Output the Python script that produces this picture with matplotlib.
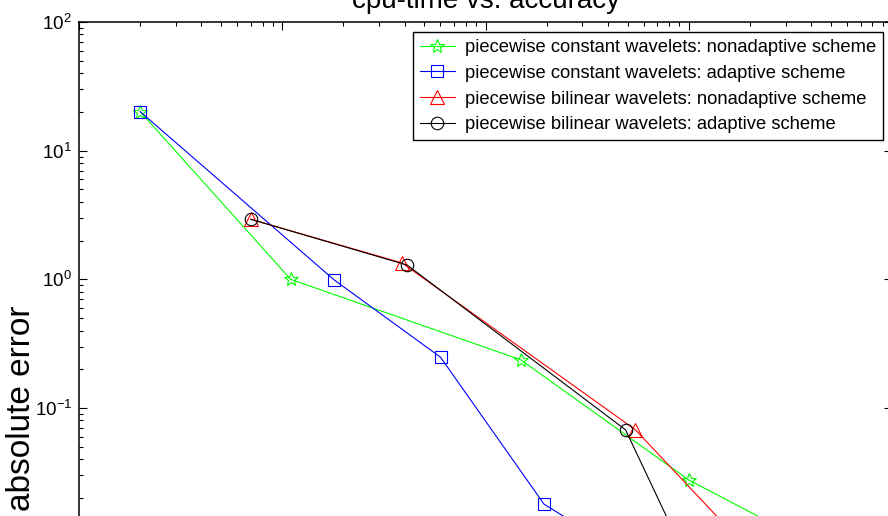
import numpy as np
import matplotlib
matplotlib.use("Agg")
import matplotlib.pyplot as plt
from matplotlib.ticker import LogLocator, NullFormatter

# cpu-time / absolute error
const_nonad_t = [2.0, 11.0, 149, 1000, 7690]
const_nonad_e = [20.1, 1.0, 0.237, 0.0276, 0.0051]

const_ad_t = [2.0, 18.0, 60.1, 194, 601]
const_ad_e = [20.1, 0.99, 0.248, 0.0179, 0.0059]

bilin_nonad_t = [7.0, 38.9, 547, 2712]
bilin_nonad_e = [2.93, 1.34, 0.0676, 0.0046]

bilin_ad_t = [7.0, 41.2, 489, 1422]
bilin_ad_e = [2.93, 1.29, 0.0676, 0.0019]

labels = ["piecewise constant wavelets: nonadaptive scheme",
          "piecewise constant wavelets: adaptive scheme",
          "piecewise bilinear wavelets: nonadaptive scheme",
          "piecewise bilinear wavelets: adaptive scheme"]

# y ticks; the ones below 10^-1 fall outside the visible crop
yticks = [1e-4, 1e-3, 1e-2, 1e-1, 1e0, 1e1, 1e2]
ytick_labels = ["", "", "", "$10^{-1}$", "$10^{0}$", "$10^{1}$", "$10^{2}$"]

plt.rcParams["font.family"] = ["Liberation Sans", "DejaVu Sans"]
plt.rcParams["mathtext.fontset"] = "custom"
plt.rcParams["mathtext.rm"] = "Liberation Sans"
plt.rcParams["mathtext.it"] = "Liberation Sans"

W, H = 888, 516
fig = plt.figure(figsize=(W / 100, H / 100), dpi=100)
# axes runs past the bottom edge; the reference is a crop of a taller figure
left, right, top, bottom = 79, 892, 22, 794
ax = fig.add_axes([left / W, 1 - bottom / H, (right - left) / W, (bottom - top) / H])

lw = 0.8
ax.plot(const_nonad_t, const_nonad_e, "-", color=(0, 1, 0), lw=lw, marker="*",
        ms=10.5, mfc="none", mec=(0, 1, 0), mew=0.8, label=labels[0])
ax.plot(const_ad_t, const_ad_e, "-", color=(0, 0, 1), lw=lw, marker="s",
        ms=8.5, mfc="none", mec=(0, 0, 1), mew=0.8, label=labels[1])
ax.plot(bilin_nonad_t, bilin_nonad_e, "-", color=(1, 0, 0), lw=lw, marker="^",
        ms=10, mfc="none", mec=(1, 0, 0), mew=0.8, label=labels[2])
ax.plot(bilin_ad_t, bilin_ad_e, "-", color="k", lw=lw, marker="o",
        ms=9, mfc="none", mec="k", mew=0.8, label=labels[3])

ax.set_xscale("log")
ax.set_yscale("log")
ax.set_xlim(1, 1e4)
ax.set_ylim(1e-4, 1e2)

ax.set_yticks(yticks, ytick_labels)
ax.yaxis.set_minor_locator(LogLocator(base=10, subs=np.arange(2, 10), numticks=20))
ax.xaxis.set_minor_locator(LogLocator(base=10, subs=np.arange(2, 10), numticks=20))
ax.xaxis.set_minor_formatter(NullFormatter())
ax.yaxis.set_minor_formatter(NullFormatter())

ax.tick_params(which="both", direction="in", top=True, right=True, width=0.8)
ax.tick_params(which="major", length=5.5, labelsize=13.5, pad=5)
ax.tick_params(which="minor", length=3)
# x tick labels sit below the cropped area
ax.tick_params(axis="x", labelbottom=False)
for sp in ax.spines.values():
    sp.set_linewidth(1.1)

ax.set_title("cpu-time vs. accuracy", fontsize=20, pad=10)
ax.set_ylabel("absolute error", fontsize=24)
ax.yaxis.set_label_coords(-0.052, 0.5)

leg = ax.legend(loc="upper right", bbox_to_anchor=(883 / W, 1 - 32 / H),
                bbox_transform=fig.transFigure, borderaxespad=0,
                prop={"size": 13.2}, fancybox=False,
                edgecolor="k", framealpha=1, handlelength=1.9,
                handletextpad=0.55, labelspacing=0.48, borderpad=0.38)
leg.get_frame().set_linewidth(1.0)

fig.savefig("out.png", dpi=100)
